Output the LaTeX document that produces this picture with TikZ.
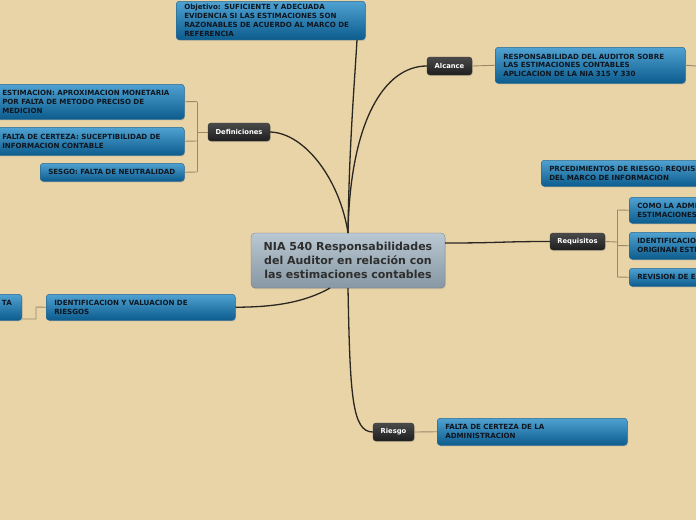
\documentclass[tikz,border=0pt]{standalone}
\usepackage{fontspec}
\setmainfont{DejaVu Sans}
\usetikzlibrary{shadows}
\definecolor{bg}{HTML}{E9D4A8}
\definecolor{bluetop}{HTML}{4FA2D2}
\definecolor{bluebot}{HTML}{0C5C8E}
\definecolor{blueedge}{HTML}{2A6A92}
\definecolor{darktop}{HTML}{4A4A4A}
\definecolor{darkbot}{HTML}{1E1E1E}
\definecolor{centtop}{HTML}{B9C8D2}
\definecolor{centbot}{HTML}{8797A3}
\definecolor{mainline}{HTML}{2A2620}
\definecolor{subline}{HTML}{9A8868}
\definecolor{boxtext}{HTML}{0E1620}
\tikzset{
  shad/.style={drop shadow={opacity=0.25, shadow xshift=0.8pt, shadow yshift=-1.2pt}},
  bluebox/.style={shad, rounded corners=3pt, draw=blueedge, line width=0.5pt,
    top color=bluetop, bottom color=bluebot, text=boxtext,
    font=\bfseries\fontsize{7.1}{8.7}\selectfont, align=left,
    inner xsep=8pt, inner ysep=4pt},
  darkbox/.style={shad, rounded corners=3pt, draw=black!80, line width=0.4pt,
    top color=darktop, bottom color=darkbot, text=white,
    font=\bfseries\fontsize{6.8}{8}\selectfont, inner sep=0pt},
  centbox/.style={shad, rounded corners=4pt, draw=centbot!80!black, line width=0.3pt,
    top color=centtop, bottom color=centbot, text=black!82,
    font=\bfseries\fontsize{11}{14}\selectfont, align=center,
    minimum width=194pt, minimum height=55pt, inner sep=0pt},
  mainconn/.style={draw=mainline, line width=1.3pt},
  subconn/.style={draw=subline, line width=0.9pt},
}
\begin{document}
\begin{tikzpicture}[x=1pt,y=-1pt]
\path[use as bounding box, fill=bg] (0,0) rectangle (696,520);
\clip (0,0) rectangle (696,520);

% central node
\node[centbox] (c) at (348,260.5) {NIA 540 Responsabilidades\\del Auditor en relación con\\ las estimaciones contables};

% main topics
\node[darkbox, minimum width=45pt, minimum height=18pt] (alc) at (449.5,66) {Alcance};
\node[darkbox, minimum width=62pt, minimum height=18pt] (def) at (239,132) {Definiciones};
\node[darkbox, minimum width=55pt, minimum height=17pt] (req) at (577.5,241.5) {Requisitos};
\node[darkbox, minimum width=41pt, minimum height=18pt] (rie) at (393.5,432) {Riesgo};

% blue boxes
\node[bluebox, text width=173pt, anchor=south west, font=\bfseries\fontsize{7.1}{9}\selectfont, inner ysep=3pt] (obj) at (176,40)
  {Objetivo: SUFICIENTE Y ADECUADA\\EVIDENCIA SI LAS ESTIMACIONES SON\\RAZONABLES DE ACUERDO AL MARCO DE\\REFERENCIA};
\node[bluebox, text width=174pt, anchor=north west, minimum height=36pt] (alc1) at (495,47)
  {RESPONSABILIDAD DEL AUDITOR SOBRE\\LAS ESTIMACIONES CONTABLES\\APLICACION DE LA NIA 315 Y 330};
\node[bluebox, text width=174pt, anchor=north west, minimum height=35pt] (est) at (-6,84)
  {ESTIMACION: APROXIMACION MONETARIA\\POR FALTA DE METODO PRECISO DE\\MEDICION};
\node[bluebox, text width=174pt, anchor=north west, minimum height=28pt] (fal) at (-6,127)
  {FALTA DE CERTEZA: SUCEPTIBILIDAD DE\\INFORMACION CONTABLE};
\node[bluebox, text width=128pt, anchor=north west, minimum height=18pt, inner ysep=2pt] (ses) at (40,163)
  {SESGO: FALTA DE NEUTRALIDAD};
\node[bluebox, text width=200pt, anchor=north west, minimum height=26pt] (prc) at (541,160)
  {PRCEDIMIENTOS DE RIESGO: REQUISITOS\\DEL MARCO DE INFORMACION};
\node[bluebox, text width=160pt, anchor=north west, minimum height=26pt] (como) at (629,197)
  {COMO LA ADMINISTRACION\\ESTIMACIONES};
\node[bluebox, text width=160pt, anchor=north west, minimum height=27pt] (iden) at (629,232)
  {IDENTIFICACION\\ORIGINAN ESTIMACIONES};
\node[bluebox, text width=160pt, anchor=north west, minimum height=18pt, inner ysep=2pt] (rev) at (629,268)
  {REVISION DE ESTIMACIONES};
\node[bluebox, text width=173pt, anchor=north west, minimum height=26pt] (idv) at (46,294)
  {IDENTIFICACION Y VALUACION DE\\RIESGOS};
\node[bluebox, text width=120pt, anchor=north east, minimum height=26pt, align=right, inner xsep=10pt] (ta) at (22,294)
  {TA\\ ~};
\node[bluebox, text width=174pt, anchor=north west, minimum height=27pt] (frie) at (437,418)
  {FALTA DE CERTEZA DE LA\\ADMINISTRACION};

% main connectors
\draw[mainconn] (348,233) .. controls (349,150) and (354,90) .. (obj.south -| 357,0);
\draw[mainconn] (348,233) .. controls (350,120) and (385,66) .. (alc.west);
\draw[mainconn] (348,233) .. controls (340,180) and (305,133) .. (def.east);
\draw[mainconn] (c.east |- 0,243) .. controls (500,243) and (500,241.5) .. (req.west);
\draw[mainconn] (330,288) .. controls (300,305) and (265,307) .. (idv.east);
\draw[mainconn] (348,288) .. controls (350,395) and (352,432) .. (rie.west);

% sub connectors
\draw[subconn] (def.west) -- (197,132);
\draw[subconn] (197,101.5) -- (197,172);
\draw[subconn] (197,101.5) -- (est.east);
\draw[subconn] (197,141) -- (fal.east);
\draw[subconn] (197,172) -- (ses.east);
\draw[subconn] (alc.east) -- (alc1.west);
\coordinate (alcend) at (696,66);
\draw[subconn] (alc1.east) -- (alcend);
\draw[subconn] (req.east) -- (617,242);
\draw[subconn] (617,210) -- (617,277);
\draw[subconn] (617,210) -- (como.west);
\draw[subconn] (617,245.5) -- (iden.west);
\draw[subconn] (617,277) -- (rev.west);
\draw[subconn] (rie.east) -- (frie.west);
\draw[subconn] (idv.west) -- (36,307) -- (36,319) -- (ta.east |- 0,319);
\end{tikzpicture}
\end{document}
